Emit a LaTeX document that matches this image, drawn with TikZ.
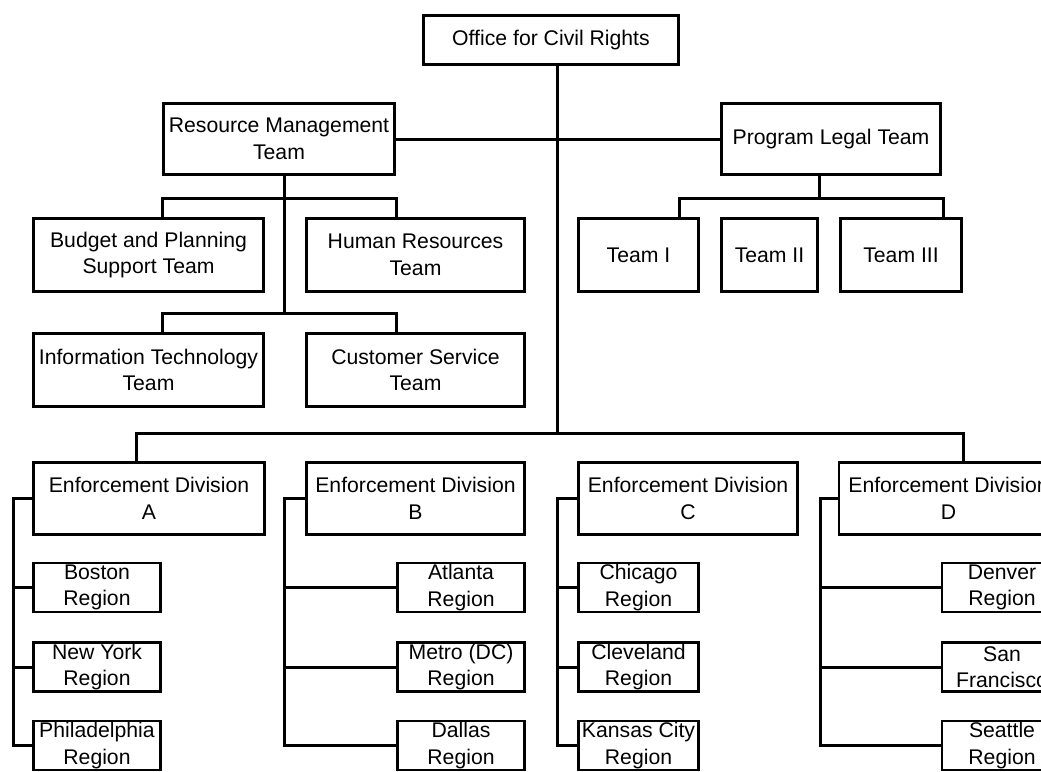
\documentclass[tikz,border=0pt]{standalone}
\usepackage{fontspec}
\setmainfont{Liberation Sans}
\begin{document}
\begin{tikzpicture}[x=1pt,y=-1pt,
  box/.style={draw=black,line width=2.8pt,fill=white,inner sep=0pt,align=center,
    font=\fontsize{21.2}{26.5}\selectfont},
  conn/.style={line width=3pt,line cap=rect}]
\useasboundingbox (0,0) rectangle (1041,771);
\clip (0,0) rectangle (1041,771);
% top
\node[box,minimum width=255pt,minimum height=49pt] (ocr) at (551,40) {Office for Civil Rights};
\node[box,minimum width=231pt,minimum height=71pt] (rmt) at (279,139) {Resource Management\\Team};
\node[box,minimum width=219pt,minimum height=71pt] (plt) at (831,139) {Program Legal Team};
% RMT children
\node[box,minimum width=230pt,minimum height=73pt] (bps) at (148.5,255) {Budget and Planning\\Support Team};
\node[box,minimum width=218pt,minimum height=73pt] (hr) at (415.5,255) {Human Resources\\Team};
\node[box,minimum width=230pt,minimum height=73pt] (it) at (148.5,370) {Information Technology\\Team};
\node[box,minimum width=218pt,minimum height=73pt] (cs) at (415.5,370) {Customer Service\\Team};
% PLT children
\node[box,minimum width=120pt,minimum height=73pt] (t1) at (638.5,255) {Team I};
\node[box,minimum width=96pt,minimum height=73pt] (t2) at (769.5,255) {Team II};
\node[box,minimum width=121pt,minimum height=73pt] (t3) at (901,255) {Team III};
% divisions
\node[box,minimum width=231pt,minimum height=72pt] (dA) at (149,498.5) {Enforcement Division\\A};
\node[box,minimum width=218pt,minimum height=72pt] (dB) at (415.5,498.5) {Enforcement Division\\B};
\node[box,minimum width=219pt,minimum height=72pt] (dC) at (688,498.5) {Enforcement Division\\C};
\node[box,minimum width=219pt,minimum height=72pt] (dD) at (948.5,498.5) {Enforcement Division\\D};
% regions
\node[box,minimum width=127pt,minimum height=49pt] (bos) at (97,587.5) {Boston\\Region};
\node[box,minimum width=127pt,minimum height=49pt] (ny) at (97,667) {New York\\Region};
\node[box,minimum width=127pt,minimum height=49pt] (phi) at (97,745.5) {Philadelphia\\Region};
\node[box,minimum width=127pt,minimum height=49pt] (atl) at (461,587.5) {Atlanta\\Region};
\node[box,minimum width=127pt,minimum height=49pt] (met) at (461,667) {Metro (DC)\\Region};
\node[box,minimum width=127pt,minimum height=49pt] (dal) at (461,745.5) {Dallas\\Region};
\node[box,minimum width=120pt,minimum height=49pt] (chi) at (638.5,587.5) {Chicago\\Region};
\node[box,minimum width=120pt,minimum height=49pt] (cle) at (638.5,667) {Cleveland\\Region};
\node[box,minimum width=120pt,minimum height=49pt] (kc) at (638.5,745.5) {Kansas City\\Region};
\node[box,minimum width=120pt,minimum height=49pt] (den) at (1002,587.5) {Denver\\Region};
\node[box,minimum width=120pt,minimum height=49pt] (sf) at (1002,667) {San\\Francisco};
\node[box,minimum width=120pt,minimum height=49pt] (sea) at (1002,745.5) {Seattle\\Region};
% junction coordinates
\coordinate (eb) at (557,433);
\coordinate (ebL) at (136,433);
\coordinate (ebR) at (963,433);
\coordinate (rv1) at (284,198);
\coordinate (rv2) at (284,313);
\coordinate (b1L) at (162,198);
\coordinate (b1R) at (396,198);
\coordinate (b2L) at (162,313);
\coordinate (b2R) at (396,313);
\coordinate (pv) at (819,198);
\coordinate (pL) at (679,198);
\coordinate (pR) at (943,198);
\coordinate (jA) at (13,498.5);
\coordinate (jB) at (284,498.5);
\coordinate (jC) at (557,498.5);
\coordinate (jD) at (820,498.5);
\begin{scope}[on background layer/.style={}]
\end{scope}
% connectors
\draw[conn] (ocr.south -| eb) -- (eb);
\draw[conn] (rmt.east) -- (plt.west);
\draw[conn] (rmt.south -| rv1) -- (rv2);
\draw[conn] (bps.north -| b1L) -- (b1L) -- (b1R) -- (hr.north -| b1R);
\draw[conn] (it.north -| b2L) -- (b2L) -- (b2R) -- (cs.north -| b2R);
\draw[conn] (plt.south -| pv) -- (pv);
\draw[conn] (t1.north -| pL) -- (pL) -- (pR) -- (t3.north -| pR);
\draw[conn] (dA.north -| ebL) -- (ebL) -- (ebR) -- (dD.north -| ebR);
\draw[conn] (dA.west) -- (jA) |- (phi.west);
\draw[conn] (jA) |- (bos.west);
\draw[conn] (jA) |- (ny.west);
\draw[conn] (dB.west) -- (jB) |- (dal.west);
\draw[conn] (jB) |- (atl.west);
\draw[conn] (jB) |- (met.west);
\draw[conn] (dC.west) -- (jC) |- (kc.west);
\draw[conn] (jC) |- (chi.west);
\draw[conn] (jC) |- (cle.west);
\draw[conn] (dD.west) -- (jD) |- (sea.west);
\draw[conn] (jD) |- (den.west);
\draw[conn] (jD) |- (sf.west);
\end{tikzpicture}
\end{document}
